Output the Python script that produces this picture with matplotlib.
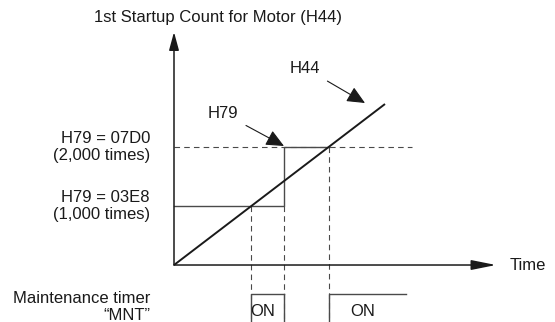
import matplotlib
matplotlib.use("Agg")
import matplotlib.pyplot as plt

plt.rcParams['font.family'] = ['Liberation Sans', 'DejaVu Sans']
plt.rcParams['lines.scale_dashes'] = False

# diagram values (time in arbitrary units, count in startups)
levels = [1000, 2000]
level_labels = ["H79 = 03E8\n(1,000 times)", "H79 = 07D0\n(2,000 times)"]
step_time = 11.0            # H79 changed from 03E8 to 07D0
h44_time = [0.0, 21.1]
h44_count = [0, 2729]
dash_end = 23.8
on_end = 23.2
axis_x_end = 32.2
axis_y_end = 3949

# crossings of the H44 line with the H79 levels
rate = h44_count[1] / h44_time[1]
t_cross = [lv / rate for lv in levels]
on_periods = [(t_cross[0], step_time), (t_cross[1], on_end)]

INK = '#1a1a1a'
THIN = '#4a4a4a'
DASH = (0, (4, 3))
FS = 12

fig = plt.figure(figsize=(5.55, 3.22), dpi=100)
ax = fig.add_axes([0, 0, 1, 1])
ax.set_xlim(-17.4, 38.1)
ax.set_ylim(-966, 4492)
ax.axis('off')
bottom = -966
xt = ax.get_xaxis_transform()

# axes with arrows
ax.annotate('', xy=(0, axis_y_end), xytext=(0, 0),
            arrowprops=dict(arrowstyle='-|>,head_length=1.1,head_width=0.3',
                            mutation_scale=10, lw=1.1, color=INK,
                            shrinkA=0, shrinkB=0))
ax.annotate('', xy=(axis_x_end, 0), xytext=(0, 0),
            arrowprops=dict(arrowstyle='-|>,head_length=1.5,head_width=0.3',
                            mutation_scale=10, lw=1.1, color=INK,
                            shrinkA=0, shrinkB=0))

# dashed 2000 line
ax.plot([0, dash_end], [levels[1], levels[1]], color=THIN, lw=0.8, ls=DASH)

# H79 setting (step)
ax.plot([0, step_time, step_time, t_cross[1]],
        [levels[0], levels[0], levels[1], levels[1]], color=THIN, lw=1.0)

# dashed verticals
ax.plot([t_cross[0], t_cross[0]], [levels[0], bottom], color=THIN, lw=0.8, ls=DASH)
ax.plot([step_time, step_time], [levels[0], bottom], color=THIN, lw=0.8, ls=DASH)
ax.plot([t_cross[1], t_cross[1]], [levels[1], bottom], color=THIN, lw=0.8, ls=DASH)

# H44 count line
ax.plot(h44_time, h44_count, color=INK, lw=1.4, solid_capstyle='butt')

# maintenance timer
top = 1 - 294 / 322
for (t0, t1) in on_periods:
    ax.plot([t0, t0, t1], [0, top, top], color=THIN, lw=1.0, transform=xt,
            clip_on=False)
ax.plot([step_time, step_time], [0, top], color=THIN, lw=1.0, transform=xt)
ax.text(8.9, 1 - 311 / 322, 'ON', transform=xt, ha='center', va='center',
        fontsize=FS, color=INK)
ax.text(18.9, 1 - 311 / 322, 'ON', transform=xt, ha='center', va='center',
        fontsize=FS, color=INK)

# labels
for lv, lab in zip(levels, level_labels):
    ax.text(-2.4, lv, lab, ha='right', va='center', fontsize=FS,
            color=INK, linespacing=1.1)
ax.text(-2.4, 1 - 307 / 322, 'Maintenance timer\n\u201cMNT\u201d', transform=xt,
        ha='right', va='center', fontsize=FS, color=INK, linespacing=1.1)
ax.text(4.4, 4203, '1st Startup Count for Motor (H44)', ha='center',
        va='center', fontsize=FS, color=INK)
ax.text(33.6, 0, 'Time', ha='left', va='center', fontsize=FS, color=INK)

ax.annotate('H79', xy=(11.0, 2017), xytext=(4.9, 2576), ha='center',
            va='center', fontsize=FS, color=INK,
            arrowprops=dict(arrowstyle='-|>,head_length=1.1,head_width=0.5',
                            mutation_scale=10, lw=0.8, color=INK,
                            shrinkA=4, shrinkB=0))
ax.annotate('H44', xy=(19.1, 2746), xytext=(13.1, 3339), ha='center',
            va='center', fontsize=FS, color=INK,
            arrowprops=dict(arrowstyle='-|>,head_length=1.1,head_width=0.5',
                            mutation_scale=10, lw=0.8, color=INK,
                            shrinkA=4, shrinkB=0))

fig.savefig('out.png', dpi=100)
